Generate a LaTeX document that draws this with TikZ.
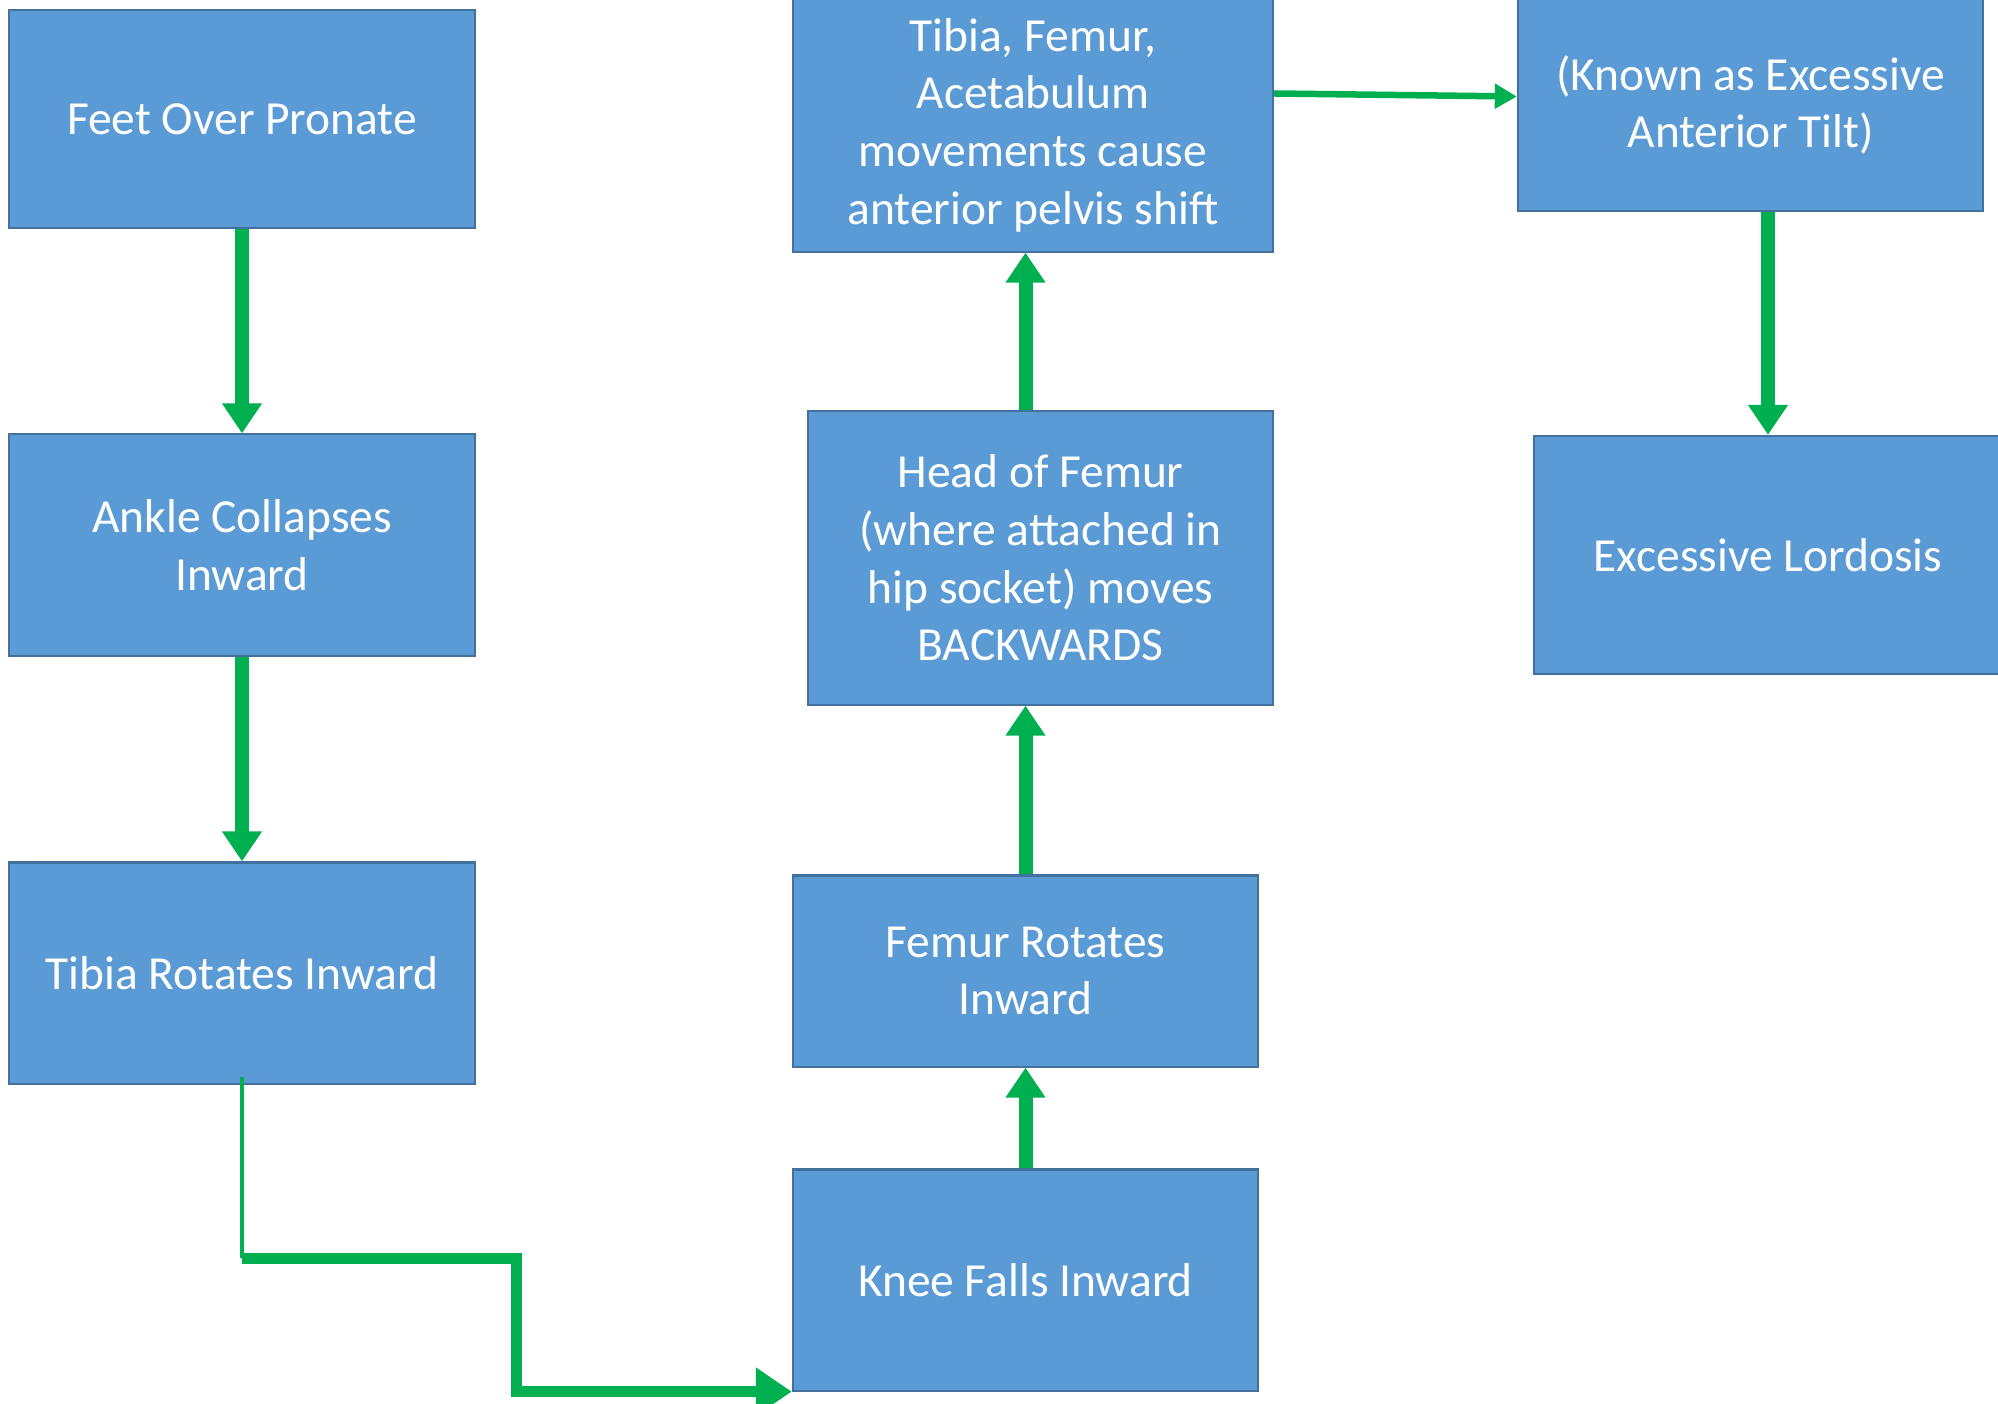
\documentclass[tikz,border=0pt]{standalone}
\usepackage{fontspec}
\setmainfont{Carlito}
\usetikzlibrary{arrows.meta}

\definecolor{boxfill}{HTML}{5B9BD5}
\definecolor{boxline}{HTML}{41719C}
\definecolor{flowgreen}{HTML}{00B050}

\begin{document}
\begin{tikzpicture}[x=0.01cm,y=-0.01cm,
	box/.style={draw=boxline,fill=boxfill,line width=0.6pt,text=white,align=center,
		inner sep=0pt,font=\fontsize{13.5}{16.4}\selectfont},
	link/.style={draw=flowgreen,line width=0.14cm,-{Triangle[width=0.38cm,length=0.3cm]}}]

\useasboundingbox (0,0) rectangle (1998,1403);

% left column
\node[box,minimum width=4.66cm,minimum height=2.17cm] (feet) at (242,119) {Feet Over Pronate};
\node[box,minimum width=4.66cm,minimum height=2.21cm] (ankle) at (242,545) {Ankle Collapses\\Inward};
\node[box,minimum width=4.66cm,minimum height=2.21cm] (tibia) at (242,973) {Tibia Rotates Inward};

% middle column
\node[box,minimum width=4.65cm,minimum height=2.21cm] (knee) at (1025.5,1280) {Knee Falls Inward};
\node[box,minimum width=4.65cm,minimum height=1.91cm] (femur) at (1025.5,971) {Femur Rotates\\Inward};
\node[box,minimum width=4.65cm,minimum height=2.93cm] (head) at (1040.5,558) {Head of Femur\\(where attached in\\hip socket) moves\\BACKWARDS};
\node[box,minimum width=4.80cm,minimum height=2.53cm] (acet) at (1033,125) {Tibia, Femur,\\Acetabulum\\movements cause\\anterior pelvis shift};

% right column
\node[box,minimum width=4.65cm,minimum height=2.12cm] (known) at (1750.5,105) {(Known as Excessive\\Anterior Tilt)};
\node[box,minimum width=4.68cm,minimum height=2.38cm] (lord) at (1768,555) {Excessive Lordosis};

\draw[link] (feet.south) -- (ankle.north);
\draw[link] (ankle.south) -- (tibia.north);

\coordinate (bendA) at (242,1258);
\coordinate (bendB) at (516,1258);
\draw[flowgreen,line width=0.045cm] ([yshift=0.08cm]tibia.south) -- (bendA);
\draw[link,line width=0.11cm,-{Triangle[width=0.46cm,length=0.36cm]}] (bendA) -- (bendB) |- (knee.south west);

\draw[link] (knee.north) -- (femur.south);
\draw[link] (femur.north) -- (femur.north |- head.south);
\draw[link] (femur.north |- head.north) -- (femur.north |- acet.south);
\draw[link,line width=0.065cm,-{Triangle[width=0.24cm,length=0.22cm]}] ([yshift=0.315cm]acet.east) -- ([yshift=0.085cm]known.west);
\draw[link] (lord.north |- known.south) -- (lord.north);

\end{tikzpicture}
\end{document}
